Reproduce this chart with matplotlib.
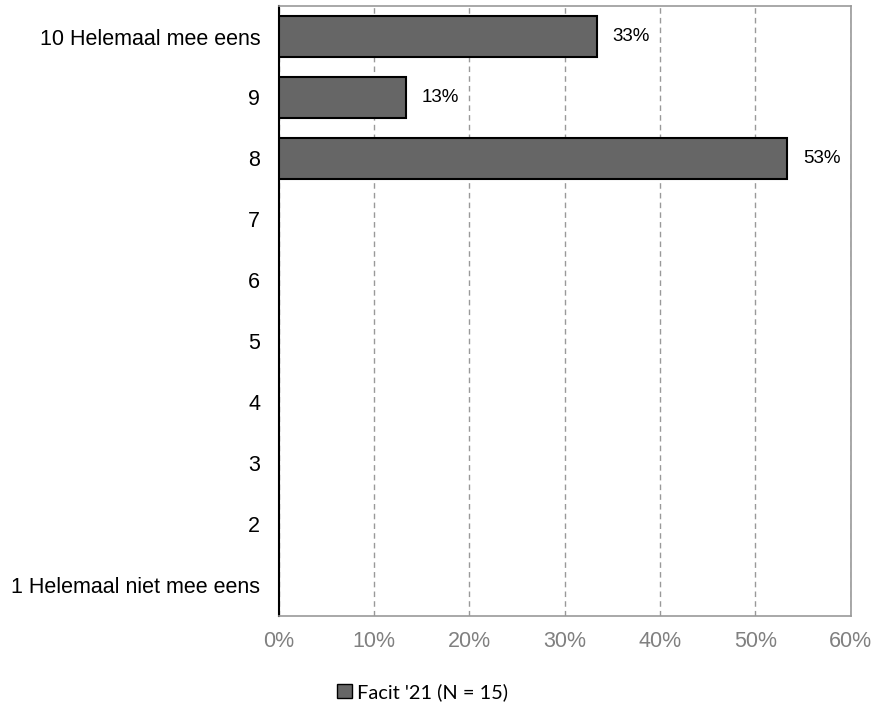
import numpy as np
import matplotlib.pyplot as plt
from matplotlib.patches import Patch

categories = ["10 Helemaal mee eens", "9", "8", "7", "6", "5", "4", "3", "2",
              "1 Helemaal niet mee eens"]
values = [33.33, 13.33, 53.33, 0, 0, 0, 0, 0, 0, 0]
labels = ["33%", "13%", "53%", "", "", "", "", "", "", ""]
xticks = [0, 10, 20, 30, 40, 50, 60]

plt.rcParams['font.family'] = ['Liberation Sans', 'DejaVu Sans']

fig = plt.figure(figsize=(8.77, 7.06), dpi=100)
ax = fig.add_axes([0.318, 0.1275, 0.652, 0.864])

y = np.arange(len(categories))
for yi, v, lab in zip(y, values, labels):
    if v > 0:
        ax.barh(yi, v, height=0.67, color='#666666', edgecolor='black', linewidth=1.5, zorder=3)
        ax.text(v + 1.7, yi, lab, va='center', ha='left', fontsize=13.5, color='black')

ax.set_ylim(len(categories) - 0.5, -0.5)
ax.set_xlim(0, 60)
ax.set_yticks(y)
ax.set_yticklabels(categories, fontsize=15.5)
ax.set_xticks(xticks)
ax.set_xticklabels([f"{t}%" for t in xticks], fontsize=15.5, color='#808080')
ax.tick_params(axis='both', length=0)
ax.tick_params(axis='y', pad=13.5)
ax.tick_params(axis='x', pad=11)

ax.grid(axis='x', color='#999999', linestyle=(0, (4, 3)), linewidth=1, zorder=0)
for s in ['top', 'right', 'bottom']:
    ax.spines[s].set_color('#999999')
    ax.spines[s].set_linewidth(1.2)
ax.spines['left'].set_color('black')
ax.spines['left'].set_linewidth(1.5)

handle = Patch(facecolor='#666666', edgecolor='black', linewidth=1)
fig.legend([handle], ["Facit '21 (N = 15)"], loc='center', bbox_to_anchor=(0.482, 0.02),
           frameon=False, prop={'family': 'Lato', 'size': 14.4},
           handlelength=0.75, handleheight=0.75, handletextpad=0.25)

fig.savefig('out.png', dpi=100)
